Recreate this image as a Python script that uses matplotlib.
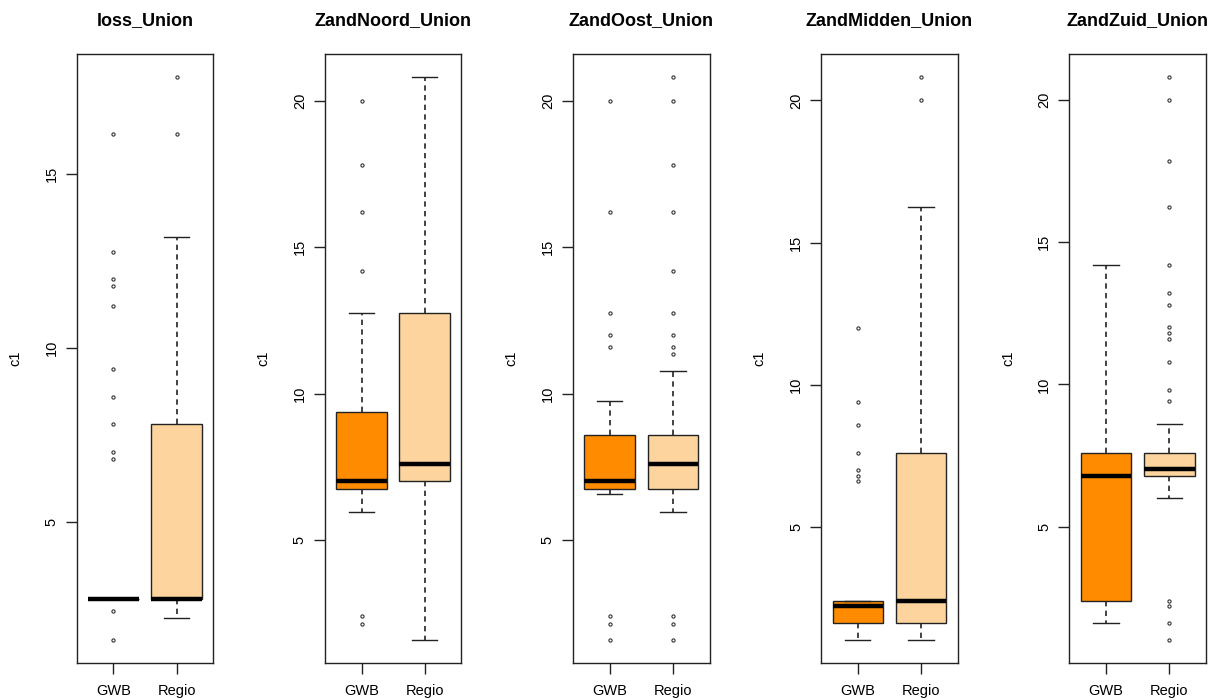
import matplotlib.pyplot as plt
from matplotlib.ticker import MultipleLocator

plt.rcParams['font.family'] = ['Liberation Sans', 'DejaVu Sans']

panels = ["loss_Union", "ZandNoord_Union", "ZandOost_Union", "ZandMidden_Union", "ZandZuid_Union"]
groups = ["GWB", "Regio"]
colors = ["#FF8C00", "#FDD49E"]

# GWB statistics per panel
gwb_whislo = [2.8, 5.97, 6.56, 1.02, 1.61]
gwb_q1 = [2.8, 6.75, 6.75, 1.61, 2.41]
gwb_med = [2.8, 7.01, 7.01, 2.22, 6.8]
gwb_q3 = [2.8, 9.37, 8.59, 2.41, 7.6]
gwb_whishi = [2.8, 12.76, 9.76, 2.41, 14.19]
gwb_fliers = [
    [1.61, 2.44, 6.83, 7.01, 7.82, 8.59, 9.40, 11.21, 11.79, 12.0, 12.78, 16.15],
    [2.14, 2.40, 14.19, 16.2, 17.81, 20.0],
    [1.58, 2.14, 2.42, 11.6, 12.0, 12.76, 16.2, 20.0],
    [6.6, 6.8, 7.0, 7.6, 8.59, 9.38, 11.99],
    [],
]

# Regio statistics per panel
regio_whislo = [2.24, 1.58, 5.97, 1.02, 6.01]
regio_q1 = [2.8, 7.01, 6.75, 1.61, 6.8]
regio_med = [2.8, 7.58, 7.58, 2.41, 7.02]
regio_q3 = [7.82, 12.76, 8.59, 7.6, 7.6]
regio_whishi = [13.19, 20.81, 10.76, 16.24, 8.62]
regio_fliers = [
    [16.15, 17.8],
    [],
    [1.58, 2.14, 2.42, 11.35, 11.6, 12.0, 12.76, 14.17, 16.2, 17.81, 20.0, 20.81],
    [20.03, 20.83],
    [1.02, 1.61, 2.22, 2.41, 9.42, 9.81, 10.79, 11.59, 11.79, 12.0, 12.8, 13.2,
     14.19, 16.24, 17.84, 20.0, 20.8],
]

W, H = 1216, 700
fig = plt.figure(figsize=(W / 100, H / 100), dpi=100)

for i, name in enumerate(panels):
    left = 76.7 + 248.15 * i
    ax = fig.add_axes([left / W, (H - 662.7) / H, 136.6 / W, (662.7 - 54.3) / H])

    stats = [
        dict(whislo=gwb_whislo[i], q1=gwb_q1[i], med=gwb_med[i], q3=gwb_q3[i],
             whishi=gwb_whishi[i], fliers=gwb_fliers[i], label=groups[0]),
        dict(whislo=regio_whislo[i], q1=regio_q1[i], med=regio_med[i], q3=regio_q3[i],
             whishi=regio_whishi[i], fliers=regio_fliers[i], label=groups[1]),
    ]
    bp = ax.bxp(stats, positions=[1, 2], widths=0.8, patch_artist=True,
                boxprops=dict(edgecolor="#222222", linewidth=1.0),
                medianprops=dict(color="black", linewidth=3.2, solid_capstyle="butt"),
                whiskerprops=dict(color="#222222", linewidth=1.2, linestyle=(0, (3.2, 2.6))),
                capprops=dict(color="#222222", linewidth=1.0),
                capwidths=0.4,
                flierprops=dict(marker="o", markersize=2.3, markerfacecolor="none",
                                markeredgecolor="#333333", markeredgewidth=0.8,
                                linestyle="none"))
    for patch, c in zip(bp["boxes"], colors):
        patch.set_facecolor(c)

    # y range with 4% padding, like R's default axis style
    vals = [gwb_whislo[i], gwb_whishi[i], regio_whislo[i], regio_whishi[i]]
    vals += gwb_fliers[i] + regio_fliers[i]
    lo, hi = min(vals), max(vals)
    pad = 0.04 * (hi - lo)
    ax.set_ylim(lo - pad, hi + pad)
    ax.set_xlim(0.42, 2.58)
    ax.yaxis.set_major_locator(MultipleLocator(5))

    ax.tick_params(axis="both", direction="out", length=8, width=1.0,
                   color="#222222", labelsize=10.5, pad=5)
    ax.tick_params(axis="x", pad=7)
    for lab in ax.get_yticklabels():
        lab.set_rotation(90)
        lab.set_va("center")
    for s in ax.spines.values():
        s.set_color("#222222")
        s.set_linewidth(1.0)

    ax.set_ylabel("c1", fontsize=10.5, labelpad=16)
    ax.set_title(name, fontsize=13, fontweight="bold", pad=21)

fig.savefig("out.png", dpi=100)
